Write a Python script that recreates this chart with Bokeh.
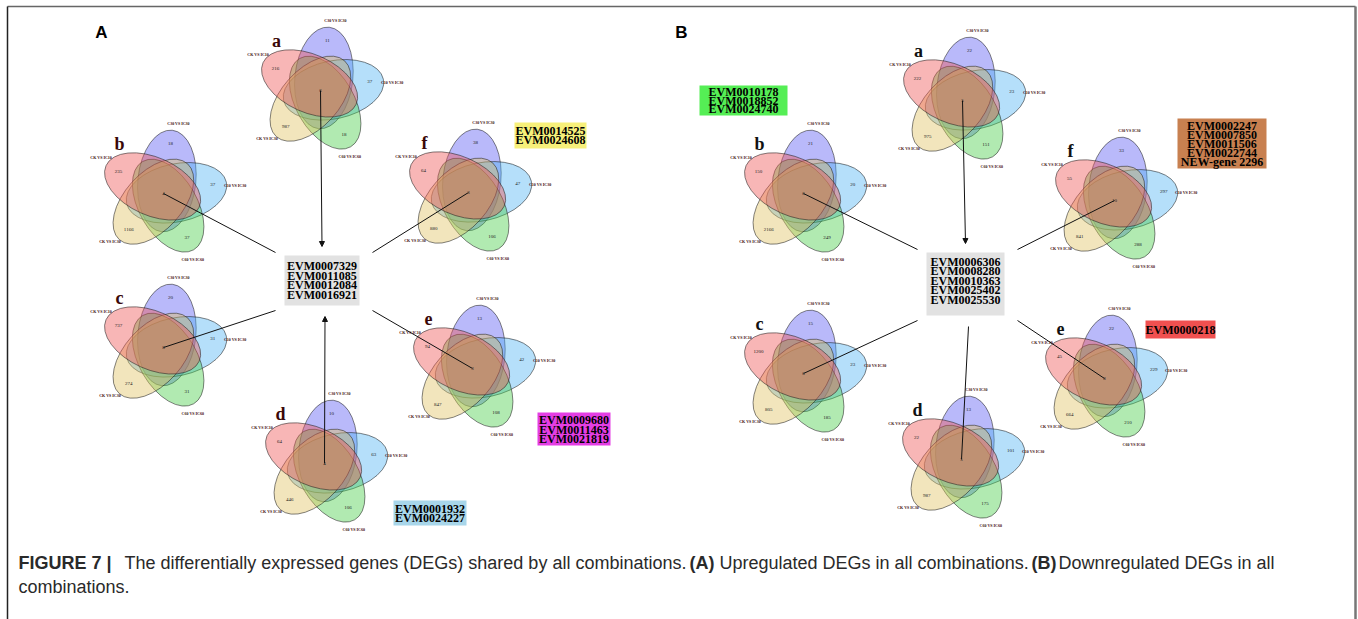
import math
from bokeh.plotting import figure
from bokeh.models import Range1d, ColumnDataSource, Arrow, NormalHead
from bokeh.embed import file_html
from bokeh.resources import INLINE
from bokeh.core.properties import value

W, H = 1358, 619

# ---------------------------------------------------------------- data
# set names, clockwise from the top ellipse
set_names = ["C30 VS IC30", "C10 VS IC30", "C60 VS IC60", "CK VS IC30", "CK VS IC10"]
diagram_ids = ["a", "b", "c", "d", "e", "f"]

# genes unique to each comparison (top, right, lower-right, lower-left, left)
up_unique = [
    [11, 37, 18, 987, 216],
    [18, 37, 37, 1166, 235],
    [20, 31, 31, 274, 737],
    [10, 63, 106, 446, 64],
    [13, 42, 108, 847, 94],
    [38, 47, 106, 880, 64],
]
down_unique = [
    [22, 23, 151, 975, 222],
    [21, 20, 249, 2166, 150],
    [15, 23, 185, 805, 1200],
    [13, 101, 175, 987, 22],
    [22, 229, 210, 664, 45],
    [33, 297, 288, 841, 55],
]
# genes shared by all five comparisons in each diagram
up_core = [6, 4, 8, 4, 3, 3]
down_core = [5, 6, 6, 5, 8, 10]

up_shared_genes = ["EVM0007329", "EVM0011085", "EVM0012084", "EVM0016921"]
down_shared_genes = ["EVM0006306", "EVM0008280", "EVM0010363", "EVM0025402", "EVM0025530"]
up_f_genes = ["EVM0014525", "EVM0024608"]
up_e_genes = ["EVM0009680", "EVM0011463", "EVM0021819"]
up_d_genes = ["EVM0001932", "EVM0024227"]
down_b_genes = ["EVM0010178", "EVM0018852", "EVM0024740"]
down_f_genes = ["EVM0002247", "EVM0007850", "EVM0011506", "EVM0022744", "NEW-gene 2296"]
down_e_genes = ["EVM0000218"]

caption_bold = ["FIGURE 7 |", "(A)", "(B)"]
caption_plain = ["The differentially expressed genes (DEGs) shared by all combinations.",
                 "Upregulated DEGs in all combinations.",
                 "Downregulated DEGs in all",
                 "combinations."]

# ---------------------------------------------------------------- layout
def Y(y):
    return H - y

p = figure(width=W, height=H, x_range=Range1d(0, W), y_range=Range1d(0, H),
           output_backend="svg", toolbar_location=None, min_border=0,
           x_axis_type=None, y_axis_type=None)
p.grid.visible = False
p.outline_line_color = None
p.background_fill_color = "white"
p.border_fill_color = "white"

# diagram centres (page pixels), order a..f
up_centers = [(320, 90), (163, 193), (163, 347), (324, 463), (472, 368), (468, 192)]
down_centers = [(962, 100), (803, 193), (803, 373), (961, 459), (1104, 378), (1114, 200)]

FILLS = ["#5757f2", "#4fb3f2", "#45cc45", "#e0c060", "#ee5050"]
PHI = [90 - 72 * k for k in range(5)]
SEMI_A, SEMI_B, OFF = 51, 29, 13

ell = dict(x=[], y=[], w=[], h=[], a=[], c=[])
lab = dict(x=[], y=[], t=[])
num = dict(x=[], y=[], t=[])
let = dict(x=[], y=[], t=[], c=[])


def venn(cx, cy, letter, unique, core, letter_color):
    for k in range(5):
        phi = math.radians(PHI[k])
        off = math.radians(PHI[k] - 15)
        ell["x"].append(cx + OFF * math.cos(off))
        ell["y"].append(Y(cy) + OFF * math.sin(off))
        ell["w"].append(2 * SEMI_A)
        ell["h"].append(2 * SEMI_B)
        ell["a"].append(phi - math.radians(6))
        ell["c"].append(FILLS[k])
        la = math.radians(PHI[k] - 12)
        lab["x"].append(cx + 72 * math.cos(la))
        lab["y"].append(Y(cy) + 72 * math.sin(la))
        lab["t"].append(set_names[k])
        ua = math.radians(PHI[k] - 8)
        num["x"].append(cx + 50 * math.cos(ua))
        num["y"].append(Y(cy) + 50 * math.sin(ua))
        num["t"].append(str(unique[k]))
    num["x"].append(cx)
    num["y"].append(Y(cy))
    num["t"].append(str(core))
    let["x"].append(cx - 44)
    let["y"].append(Y(cy) + 50)
    let["t"].append(letter)
    let["c"].append(letter_color)


for i, d in enumerate(diagram_ids):
    venn(*up_centers[i], d, up_unique[i], up_core[i], "#3a0808")
    venn(*down_centers[i], d, down_unique[i], down_core[i], "#111111")

p.ellipse(x="x", y="y", width="w", height="h", angle="a", source=ColumnDataSource(ell),
          fill_color="c", fill_alpha=0.42, line_color="#222222", line_width=0.7, line_alpha=0.8)

# ---------------------------------------------------------------- connectors
up_box = (284, 359, 255, 305)
down_box = (926, 1004, 252, 315)


def connect(centers, box, arrow_idx):
    x0, x1, y0, y1 = box
    mx = (x0 + x1) / 2
    ends = {
        0: (mx, y0 - 9), 1: (x0 - 9, y0 - 3), 5: (x1 + 13, y0 - 3),
        2: (x0 - 9, y1 + 5), 4: (x1 + 13, y1 + 5), 3: (mx + 3, y1 + 11),
    }
    for i, (cx, cy) in enumerate(centers):
        ex, ey = ends[i]
        if i in arrow_idx:
            p.add_layout(Arrow(end=NormalHead(size=5, fill_color="#111111", line_color="#111111"),
                               x_start=cx, y_start=Y(cy), x_end=ex, y_end=Y(ey),
                               line_width=1, line_color="#111111"))
        else:
            p.segment(x0=[cx], y0=[Y(cy)], x1=[ex], y1=[Y(ey)], line_width=1, line_color="#111111")


connect(up_centers, up_box, {0, 3})
connect(down_centers, down_box, {0})

p.text(x="x", y="y", text="t", source=ColumnDataSource(lab), text_font=value("Liberation Serif"),
       text_font_style="bold", text_font_size="4px", text_color="#3a0808",
       text_align="center", text_baseline="middle")
p.text(x="x", y="y", text="t", source=ColumnDataSource(num), text_font=value("Liberation Serif"),
       text_font_size="5px", text_color="#222222", text_align="center", text_baseline="middle")
p.text(x="x", y="y", text="t", source=ColumnDataSource(let), text_font=value("Liberation Serif"),
       text_font_style="bold", text_font_size="18px", text_color="c",
       text_align="center", text_baseline="middle")

# ---------------------------------------------------------------- gene boxes
boxes = [
    (up_box, "#e2e2e2", up_shared_genes, 265.5, 9.7),
    ((514, 586, 122, 148), "#f7f07a", up_f_genes, 130.5, 9.3),
    ((537, 610, 412, 445), "#e43ee4", up_e_genes, 419.5, 9.5),
    ((393, 466, 500, 525), "#a8d6ea", up_d_genes, 508.0, 9.0),
    (down_box, "#e2e2e2", down_shared_genes, 261.0, 9.5),
    ((699, 787, 85, 115), "#55ee55", down_b_genes, 91.5, 8.7),
    ((1177, 1266, 118, 168), "#c88050", down_f_genes, 125.0, 9.0),
    ((1145, 1215, 320, 338), "#f05050", down_e_genes, 329.0, 9.0),
]
bq = dict(l=[], r=[], t=[], b=[], c=[])
bt = dict(x=[], y=[], t=[])
for (x0, x1, y0, y1), col, genes, first, sp in boxes:
    bq["l"].append(x0); bq["r"].append(x1); bq["t"].append(Y(y0)); bq["b"].append(Y(y1)); bq["c"].append(col)
    for j, g in enumerate(genes):
        bt["x"].append((x0 + x1) / 2)
        bt["y"].append(Y(first + j * sp))
        bt["t"].append(g)
p.quad(left="l", right="r", top="t", bottom="b", fill_color="c", line_color=None,
       source=ColumnDataSource(bq))
p.text(x="x", y="y", text="t", source=ColumnDataSource(bt), text_font=value("Liberation Serif"),
       text_font_style="bold", text_font_size="12px", text_color="black",
       text_align="center", text_baseline="middle")

# ---------------------------------------------------------------- panel letters and frame
p.text(x=[101, 681], y=[Y(32), Y(32)], text=["A", "B"], text_font=value("Liberation Sans"),
       text_font_style="bold", text_font_size="17px", text_color="black",
       text_align="center", text_baseline="middle")
p.segment(x0=[7], y0=[Y(6)], x1=[1355], y1=[Y(6)], line_color="#666666", line_width=1.5)
p.segment(x0=[7], y0=[Y(6)], x1=[7], y1=[0], line_color="#222222", line_width=1.5)
p.segment(x0=[1355], y0=[Y(6)], x1=[1355], y1=[0], line_color="#777777", line_width=2.5)

# ---------------------------------------------------------------- caption
cap_font = value("Liberation Sans")
p.text(x=[18, 689, 1031], y=[Y(562)] * 3, text=caption_bold, text_font=cap_font,
       text_font_style="bold", text_font_size="18px", text_color="#2a2a2a",
       text_align="left", text_baseline="middle")
p.text(x=[124, 719, 1058, 18], y=[Y(562), Y(562), Y(562), Y(586)], text=caption_plain,
       text_font=cap_font, text_font_size="18px", text_color="#2a2a2a",
       text_align="left", text_baseline="middle")

open("out.html", "w").write(file_html(p, INLINE))
